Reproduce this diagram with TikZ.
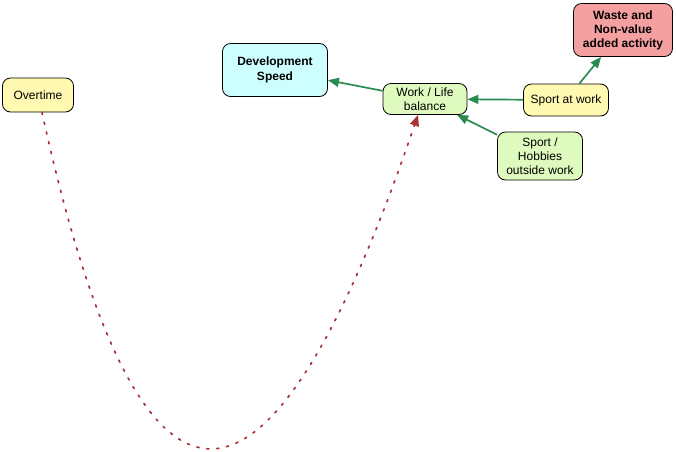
\documentclass[tikz,border=0pt]{standalone}
\usepackage{fontspec}
\setmainfont{Liberation Sans}
\usetikzlibrary{arrows.meta}
\definecolor{boxyellow}{RGB}{255,249,178}
\definecolor{boxcyan}{RGB}{205,255,255}
\definecolor{boxgreen}{RGB}{222,250,190}
\definecolor{boxred}{RGB}{245,160,160}
\definecolor{linkgreen}{RGB}{40,140,80}
\definecolor{linkred}{RGB}{170,50,50}
\tikzset{
  box/.style={draw=black,line width=0.8pt,rounded corners=8pt,align=center,
              inner sep=2pt,font=\fontsize{12pt}{14pt}\selectfont},
  link/.style={draw=linkgreen,line width=1.7pt,
               -{Triangle[length=11pt,width=9pt]}},
  loop/.style={draw=linkred,line width=1.7pt,line cap=round,
               dash pattern=on 2.2pt off 7.8pt,
               -{Triangle[length=11pt,width=9pt,fill=linkred]}}
}
\begin{document}
\begin{tikzpicture}[x=1pt,y=-1pt]
  \path[use as bounding box] (0,0) rectangle (676,451);   % canvas 676x451 px
  % ---- boxes (centre in px, size from the source frame) ----
  \node[box,fill=boxyellow,minimum width=71pt,minimum height=34pt] (ot)  at ( 38, 95) {Overtime};
  \node[box,fill=boxcyan,minimum width=105pt,minimum height=53pt,font=\fontsize{12pt}{15pt}\selectfont\bfseries]
       (dev) at (275, 70) {Development\\Speed};
  \node[box,fill=boxgreen,minimum width=84pt,minimum height=31pt]  (wl)  at (425, 99) {Work / Life\\balance};
  \node[box,fill=boxyellow,minimum width=85pt,minimum height=32pt] (saw) at (566,100) {Sport at work};
  \node[box,fill=boxred,minimum width=99pt,minimum height=53pt,font=\fontsize{12pt}{14pt}\selectfont\bfseries]
       (waste) at (623, 30) {Waste and\\Non-value\\added activity};
  \node[box,fill=boxgreen,minimum width=85pt,minimum height=48pt]  (hob) at (540,156) {Sport /\\Hobbies\\outside work};
  % ---- green links ----
  \draw[link] (wl)  -- (dev);
  \draw[link] (saw) -- (wl);
  \draw[link] (saw) -- (waste);
  \draw[link] (hob) -- (wl);
  % ---- dotted loop from Overtime back up to Work / Life ----
  \draw[loop] ([xshift=4pt]ot.south) .. controls (140,560) and (267,558) .. ([xshift=-7pt]wl.south);
\end{tikzpicture}
\end{document}
